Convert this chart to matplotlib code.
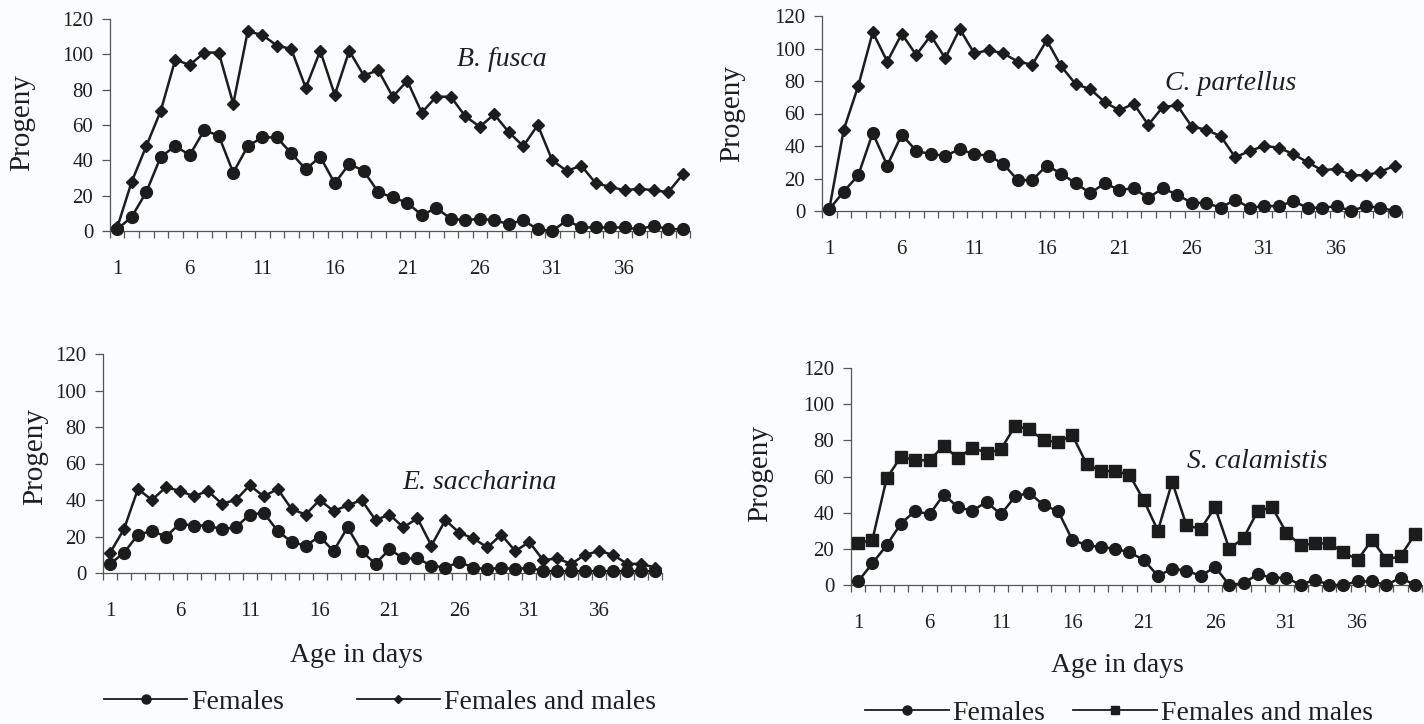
import matplotlib
matplotlib.use("Agg")
import matplotlib.pyplot as plt
from matplotlib.lines import Line2D

plt.rcParams['font.family'] = ['Liberation Serif', 'DejaVu Serif']

days = list(range(1, 41))
day_labels = [1, 6, 11, 16, 21, 26, 31, 36]
yticks = [0, 20, 40, 60, 80, 100, 120]

# progeny per day, females only / females kept with males
bf_fem = [1, 8, 22, 42, 48, 43, 57, 54, 33, 48, 53, 53, 44, 35, 42, 27, 38, 34, 22, 19,
          16, 9, 13, 7, 6, 7, 6, 4, 6, 1, 0, 6, 2, 2, 2, 2, 1, 3, 1, 1]
bf_all = [2, 28, 48, 68, 97, 94, 101, 101, 72, 113, 111, 105, 103, 81, 102, 77, 102, 88, 91, 76,
          85, 67, 76, 76, 65, 59, 66, 56, 48, 60, 40, 34, 37, 27, 25, 23, 24, 23, 22, 32]

cp_fem = [1, 12, 22, 48, 28, 47, 37, 35, 34, 38, 35, 34, 29, 19, 19, 28, 23, 17, 11, 17,
          13, 14, 8, 14, 10, 5, 5, 2, 7, 2, 3, 3, 6, 2, 2, 3, 0, 3, 2, 0]
cp_all = [1, 50, 77, 110, 92, 109, 96, 108, 94, 112, 97, 99, 97, 92, 90, 105, 89, 78, 75, 67,
          62, 66, 53, 64, 65, 52, 50, 46, 33, 37, 40, 39, 35, 30, 25, 26, 22, 22, 24, 28]

es_fem = [5, 11, 21, 23, 20, 27, 26, 26, 24, 25, 32, 33, 23, 17, 15, 20, 12, 25, 12, 5,
          13, 8, 8, 4, 3, 6, 3, 2, 3, 2, 3, 1, 1, 1, 1, 1, 1, 1, 1, 1]
es_all = [11, 24, 46, 40, 47, 45, 42, 45, 38, 40, 48, 42, 46, 35, 32, 40, 34, 37, 40, 29,
          32, 25, 30, 15, 29, 22, 19, 14, 21, 12, 17, 7, 8, 5, 10, 12, 10, 5, 5, 3]

sc_fem = [2, 12, 22, 34, 41, 39, 50, 43, 41, 46, 39, 49, 51, 44, 41, 25, 22, 21, 20, 18,
          14, 5, 9, 8, 5, 10, 0, 1, 6, 4, 4, 0, 3, 0, 0, 2, 2, 0, 4, 0]
sc_all = [23, 25, 59, 71, 69, 69, 77, 70, 76, 73, 75, 88, 86, 80, 79, 83, 67, 63, 63, 61,
          47, 30, 57, 33, 31, 43, 20, 26, 41, 43, 29, 22, 23, 23, 18, 14, 25, 14, 16, 28]

INK = '#1c1c1c'
TXT = '#1e1e1e'
AXC = '#555555'
W, H = 1424, 724

fig = plt.figure(figsize=(W / 100, H / 100), dpi=100, facecolor='#fafcfd')


def px_axes(left, right, top, bottom):
    return fig.add_axes([left / W, 1 - bottom / H, (right - left) / W, (bottom - top) / H])


def panel(ax, fem, allp, mk_all, ms_all, name, name_xy, ylab_xy):
    ax.set_facecolor('none')
    ax.plot(days, fem, color=INK, lw=1.8, marker='o', ms=8.5, mfc=INK, mec=INK, clip_on=False, zorder=3)
    ax.plot(days, allp, color=INK, lw=1.8, marker=mk_all, ms=ms_all, mfc=INK, mec=INK, clip_on=False, zorder=3)
    ax.set_xlim(0.5, 40.5)
    ax.set_ylim(0, 120)
    for s in ['top', 'right']:
        ax.spines[s].set_visible(False)
    for s in ['left', 'bottom']:
        ax.spines[s].set_color(AXC)
        ax.spines[s].set_linewidth(0.9)
    ax.set_yticks(yticks)
    ax.tick_params(axis='y', length=6, width=0.9, color=AXC, pad=6, labelsize=15, labelcolor=TXT)
    # tick marks between categories, labels centred on every fifth day
    ax.set_xticks([d + 0.5 for d in range(0, 41)])
    ax.set_xticklabels([])
    ax.tick_params(axis='x', which='major', length=5, width=0.9, color=AXC)
    ax.set_xticks(day_labels, minor=True)
    ax.set_xticklabels([str(d) for d in day_labels], minor=True)
    ax.tick_params(axis='x', which='minor', length=0, pad=21, labelsize=15, labelcolor=TXT)
    ax.set_ylabel('Progeny', fontsize=21, color=TXT)
    ax.yaxis.set_label_coords(*ylab_xy)
    ax.text(name_xy[0], name_xy[1], name, transform=ax.transAxes, ha='center', va='center',
            fontsize=20, style='italic', color=TXT)


ax1 = px_axes(110, 690, 19, 231)
panel(ax1, bf_fem, bf_all, 'D', 6.5, 'B. fusca', (0.676, 0.807), (-0.129, 0.514))

ax2 = px_axes(822, 1402, 16, 211)
panel(ax2, cp_fem, cp_all, 'D', 6.5, 'C. partellus', (0.705, 0.655), (-0.133, 0.5))

ax3 = px_axes(103, 662, 354, 573)
panel(ax3, es_fem, es_all, 'D', 6.5, 'E. saccharina', (0.674, 0.415), (-0.098, 0.534))

ax4 = px_axes(851, 1422, 368, 585)
panel(ax4, sc_fem, sc_all, 's', 8.5, 'S. calamistis', (0.711, 0.568), (-0.137, 0.514))

fig.text(356 / W, 1 - 655 / H, 'Age in days', ha='center', va='center', fontsize=20, color=TXT)
fig.text(1117 / W, 1 - 665 / H, 'Age in days', ha='center', va='center', fontsize=20, color=TXT)

h_fem = Line2D([], [], color=INK, lw=1.3, marker='o', ms=6.5, mfc=INK, mec=INK)
h_dia = Line2D([], [], color=INK, lw=1.3, marker='D', ms=4.5, mfc=INK, mec=INK)
h_sq = Line2D([], [], color=INK, lw=1.3, marker='s', ms=6, mfc=INK, mec=INK)

fig.legend([h_fem, h_dia], ['Females', 'Females and males'], loc='center',
           bbox_to_anchor=(380 / W, 1 - 702 / H), ncol=2, frameon=False, fontsize=20,
           handlelength=3.0, handletextpad=0.15, columnspacing=2.6, labelcolor=TXT)
fig.legend([h_fem, h_sq], ['Females', 'Females and males'], loc='center',
           bbox_to_anchor=(1119 / W, 1 - 713 / H), ncol=2, frameon=False, fontsize=20,
           handlelength=3.0, handletextpad=0.15, columnspacing=1.0, labelcolor=TXT)

fig.savefig('out.png', dpi=100, facecolor=fig.get_facecolor())
